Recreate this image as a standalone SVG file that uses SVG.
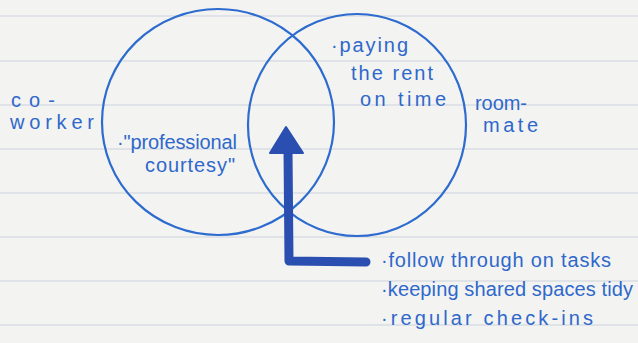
<svg xmlns="http://www.w3.org/2000/svg" width="638" height="343" viewBox="0 0 638 343">
<style>
.ink{fill:none;stroke:#2d6bcf;stroke-width:2.2}
.t{font-family:"Liberation Sans","DejaVu Sans",sans-serif;fill:#2f68cb;font-size:20px}
.rule{stroke:#cbd3dd;stroke-width:1.2}
</style>
<rect width="638" height="343" fill="#f3f3f1"/>
<g id="paper">
<line class="rule" x1="0" y1="16" x2="638" y2="16"/>
<line class="rule" x1="0" y1="61" x2="638" y2="61"/>
<line class="rule" x1="0" y1="105" x2="638" y2="105"/>
<line class="rule" x1="0" y1="149" x2="638" y2="149"/>
<line class="rule" x1="0" y1="193" x2="638" y2="193"/>
<line class="rule" x1="0" y1="237" x2="638" y2="237"/>
<line class="rule" x1="0" y1="281" x2="638" y2="281"/>
<line class="rule" x1="0" y1="325" x2="638" y2="325"/>
</g>
<g id="coworker">
<ellipse class="ink" cx="218" cy="122" rx="116" ry="113"/>
<text class="t" x="11" y="107" font-size="22" textLength="44">co-</text>
<text class="t" x="10" y="129" font-size="22" textLength="84">worker</text>
<text class="t" x="117" y="149" font-size="19" textLength="120">·"professional</text>
<text class="t" x="145" y="172" font-size="19" textLength="90">courtesy"</text>
</g>
<g id="roommate">
<ellipse class="ink" cx="357" cy="125" rx="109" ry="111"/>
<text class="t" x="331" y="52" textLength="77">·paying</text>
<text class="t" x="351" y="80" textLength="82">the rent</text>
<text class="t" x="360" y="106" textLength="86">on time</text>
<text class="t" x="475" y="110" textLength="52">room-</text>
<text class="t" x="483" y="132" textLength="55">mate</text>
</g>
<g id="shared">
<text class="t" x="381" y="267" font-size="22" textLength="230">·follow through on tasks</text>
<text class="t" x="381" y="296" font-size="21" textLength="252">·keeping shared spaces tidy</text>
<text class="t" x="381" y="325" font-size="22" textLength="212">·regular check-ins</text>
</g>
<g id="connectors">
<path d="M366,262 L289,261 L288,150" fill="none" stroke="#2a4fb0" stroke-width="9" stroke-linejoin="round" stroke-linecap="round"/>
<path d="M286,127 L303,153 L270,153 Z" fill="#2a4fb0" stroke="#2a4fb0" stroke-width="2" stroke-linejoin="round"/>
</g>
</svg>
